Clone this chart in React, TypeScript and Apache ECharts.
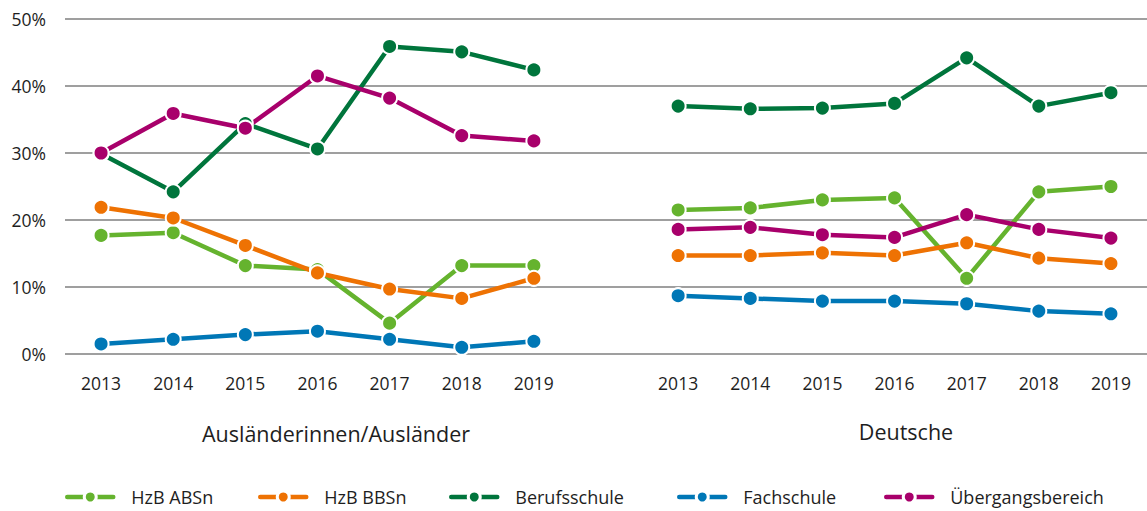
import React, { useEffect, useRef } from "react";
import * as echarts from "echarts";

const years = ["2013", "2014", "2015", "2016", "2017", "2018", "2019"];
const categories = [...years, "", ...years];
const groupNames = ["Ausländerinnen/Ausländer", "Deutsche"];
const seriesNames = ["HzB ABSn", "HzB BBSn", "Berufsschule", "Fachschule", "Übergangsbereich"];
const colors = ["#65b32e", "#ee7203", "#00753c", "#0077b6", "#a8006b"];

// Ausländerinnen/Ausländer
const abSnA = [17.7, 18.1, 13.2, 12.6, 4.6, 13.2, 13.2];
const bbSnA = [21.9, 20.3, 16.2, 12.1, 9.7, 8.3, 11.3];
const berufA = [29.9, 24.2, 34.4, 30.6, 45.9, 45.1, 42.4];
const fachA = [1.5, 2.2, 2.9, 3.4, 2.2, 1.0, 1.9];
const uebA = [30.0, 35.9, 33.7, 41.5, 38.2, 32.6, 31.8];

// Deutsche
const abSnD = [21.5, 21.8, 23.0, 23.3, 11.3, 24.2, 25.0];
const bbSnD = [14.7, 14.7, 15.1, 14.7, 16.6, 14.3, 13.5];
const berufD = [37.0, 36.6, 36.7, 37.4, 44.2, 37.0, 39.0];
const fachD = [8.7, 8.3, 7.9, 7.9, 7.5, 6.4, 6.0];
const uebD = [18.6, 18.9, 17.8, 17.4, 20.8, 18.6, 17.3];

const yTicks = [0, 10, 20, 30, 40, 50];

const FONT = "'Open Sans', 'Noto Sans', sans-serif";
const TEXT = "#1e1e1e";

export default function App() {
  const ref = useRef<HTMLDivElement>(null);
  useEffect(() => {
    if (!ref.current) return;
    const chart = echarts.init(ref.current, undefined, { renderer: "svg" });
    const dataSets = [
      [abSnA, abSnD],
      [bbSnA, bbSnD],
      [berufA, berufD],
      [fachA, fachD],
      [uebA, uebD],
    ];
    const legendLefts = [65, 258, 449, 677, 884];
    chart.setOption({
      animation: false,
      textStyle: { fontFamily: FONT },
      grid: { left: 65, top: 19, width: 1086, height: 335, containLabel: false },
      xAxis: {
        type: "category",
        data: categories,
        boundaryGap: true,
        axisLine: { show: false },
        axisTick: { show: false },
        axisLabel: { color: TEXT, fontSize: 17.5, margin: 20, fontFamily: FONT, interval: 0 },
      },
      yAxis: {
        type: "value",
        min: yTicks[0],
        max: yTicks[yTicks.length - 1],
        interval: 10,
        axisLine: { show: false },
        axisTick: { show: false },
        axisLabel: { color: TEXT, fontSize: 17.5, margin: 19, formatter: "{value}%", fontFamily: FONT },
        splitLine: { lineStyle: { color: "#7f7f7f", width: 1.5 } },
      },
      legend: seriesNames.map((n, i) => ({
        data: [n],
        left: legendLefts[i],
        top: 488,
        padding: 0,
        itemWidth: 46,
        itemHeight: 15,
        itemGap: 0,
        lineStyle: { width: 4.5, cap: "round" },
        itemStyle: { borderColor: "#ffffff", borderWidth: 3 },
        textStyle: { color: TEXT, fontSize: 18, fontFamily: FONT, padding: [0, 0, 0, 13] },
      })),
      graphic: [
        {
          type: "text",
          x: 336,
          y: 433,
          style: {
            text: groupNames[0],
            fill: TEXT,
            font: `21.5px ${FONT}`,
            textAlign: "center",
            textVerticalAlign: "middle",
            align: "center",
            verticalAlign: "middle",
          },
        },
        {
          type: "text",
          x: 906,
          y: 431,
          style: {
            text: groupNames[1],
            fill: TEXT,
            font: `21.5px ${FONT}`,
            textAlign: "center",
            textVerticalAlign: "middle",
            align: "center",
            verticalAlign: "middle",
          },
        },
      ],
      series: seriesNames.map((n, i) => ({
        name: n,
        type: "line",
        data: [...dataSets[i][0], null, ...dataSets[i][1]],
        connectNulls: false,
        symbol: "circle",
        symbolSize: 15,
        color: colors[i],
        lineStyle: { width: 4.5, color: colors[i], cap: "round" },
        itemStyle: { color: colors[i], borderColor: "#ffffff", borderWidth: 2 },
        emphasis: { disabled: true },
      })),
    });
    return () => chart.dispose();
  }, []);
  return (
    <div
      ref={ref}
      style={{ position: "fixed", left: 0, top: 0, width: 1147, height: 511, background: "#fff" }}
    />
  );
}
